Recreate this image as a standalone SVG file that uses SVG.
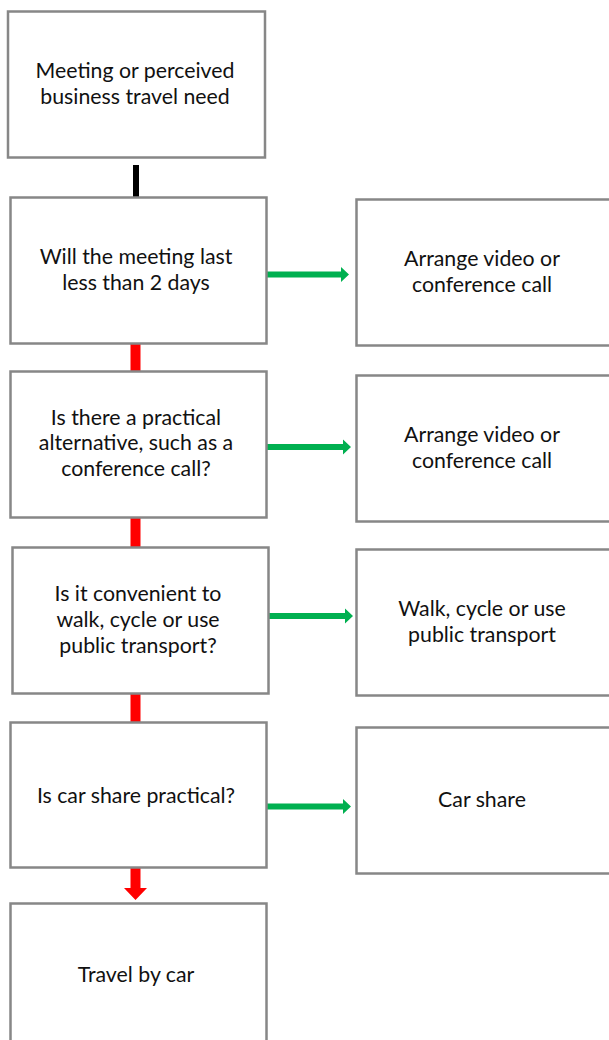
<svg xmlns="http://www.w3.org/2000/svg" width="609" height="1040" viewBox="0 0 609 1040">
<style>
.box{fill:#fff;stroke:#878787;stroke-width:2.5}
.t{font-family:Lato,"Open Sans","Liberation Sans",sans-serif;font-size:21.3px;fill:#111;text-anchor:middle}
</style>
<rect width="609" height="1040" fill="#fff"/>
<g id="connectors">
<rect x="133" y="165" width="6" height="32" fill="#000"/>
<rect x="130.5" y="343" width="10" height="28" fill="#ff0000"/>
<rect x="130.5" y="518" width="10" height="29" fill="#ff0000"/>
<rect x="130.5" y="693" width="10" height="29" fill="#ff0000"/>
<polygon points="130.5,868 140.5,868 140.5,888 147,888 135.5,900 124,888 130.5,888" fill="#ff0000"/>
<polygon points="267,271.5 341,271.5 341,267 349,274.5 341,282 341,277.5 267,277.5" fill="#00b050"/>
<polygon points="267,444 343,444 343,439.5 351,447 343,454.5 343,450 267,450" fill="#00b050"/>
<polygon points="269,613 345,613 345,608.5 353,616 345,623.5 345,619 269,619" fill="#00b050"/>
<polygon points="267,803.5 343,803.5 343,799 351,806.5 343,814 343,809.5 267,809.5" fill="#00b050"/>
</g>
<g id="n1"><rect class="box" x="8" y="11.5" width="257" height="146"/>
<text class="t" x="135" y="78">Meeting or perceived</text><text class="t" x="135" y="104">business travel need</text></g>
<g id="n2"><rect class="box" x="10.5" y="197.5" width="256" height="146"/>
<text class="t" x="136" y="264">Will the meeting last</text><text class="t" x="136" y="290">less than 2 days</text></g>
<g id="n3"><rect class="box" x="10.5" y="371.5" width="256" height="146"/>
<text class="t" x="136" y="425">Is there a practical</text><text class="t" x="136" y="450">alternative, such as a</text><text class="t" x="136" y="476">conference call?</text></g>
<g id="n4"><rect class="box" x="12.5" y="547.5" width="256" height="146"/>
<text class="t" x="138" y="601">Is it convenient to</text><text class="t" x="138" y="627">walk, cycle or use</text><text class="t" x="138" y="653">public transport?</text></g>
<g id="n5"><rect class="box" x="10.5" y="722.5" width="256" height="145"/>
<text class="t" x="136" y="803">Is car share practical?</text></g>
<g id="n6"><rect class="box" x="10.5" y="903.5" width="256" height="150"/>
<text class="t" x="136" y="982">Travel by car</text></g>
<g id="r1"><rect class="box" x="356.5" y="199.5" width="260" height="146"/>
<text class="t" x="482" y="266">Arrange video or</text><text class="t" x="482" y="292">conference call</text></g>
<g id="r2"><rect class="box" x="356.5" y="375.5" width="260" height="146"/>
<text class="t" x="482" y="442">Arrange video or</text><text class="t" x="482" y="468">conference call</text></g>
<g id="r3"><rect class="box" x="356.5" y="549.5" width="260" height="146"/>
<text class="t" x="482" y="616">Walk, cycle or use</text><text class="t" x="482" y="642">public transport</text></g>
<g id="r4"><rect class="box" x="356.5" y="727.5" width="260" height="146"/>
<text class="t" x="482" y="807">Car share</text></g>
</svg>
